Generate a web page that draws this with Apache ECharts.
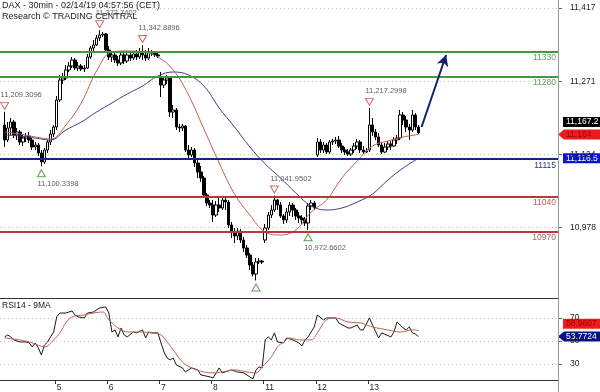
<!DOCTYPE html>
<html><head><meta charset="utf-8">
<script src="https://cdn.jsdelivr.net/npm/echarts@6/dist/echarts.min.js"></script>
<style>html,body{margin:0;padding:0;background:#fff}#c{width:600px;height:392px}</style>
</head><body><div id="c"></div>
<script>
// ---------- DATA ----------
const days = ['4','5','6','7','8','11','12','13'];
const barsPerDay = 17;
// [open, close, low, high]
const ohlc = [
[11183,11153,11139,11209.3],[11153,11177,11149,11189],[11177,11189,11163,11197],[11189,11163,11157,11193],
[11163,11169,11153,11177],[11169,11149,11143,11173],[11149,11157,11141,11163],[11157,11161,11149,11167],
[11161,11153,11147,11169],[11153,11139,11133,11157],[11139,11143,11133,11149],[11143,11127,11121,11147],
[11127,11109,11100.3,11133],[11109,11133,11105,11137],[11133,11149,11127,11153],[11149,11165,11143,11173],
[11165,11179,11159,11183],
[11179,11233,11173,11241],[11233,11273,11229,11283],[11273,11277,11265,11287],[11277,11293,11273,11303],
[11293,11301,11289,11309],[11301,11313,11297,11319],[11313,11297,11293,11317],[11297,11301,11291,11309],
[11301,11295,11291,11305],[11295,11297,11289,11303],[11297,11319,11295,11325],[11319,11337,11315,11341],
[11337,11343,11329,11353],[11343,11357,11341,11363],[11357,11363,11351,11372.7],[11363,11365,11359,11369],
[11365,11333,11327,11367],
[11333,11319,11313,11341],[11319,11323,11309,11329],[11323,11313,11307,11327],[11313,11307,11301,11321],
[11307,11323,11303,11329],[11323,11311,11305,11327],[11311,11323,11307,11329],[11323,11317,11311,11327],
[11317,11325,11313,11329],[11325,11319,11313,11333],[11319,11329,11315,11337],[11329,11323,11313,11342.9],
[11323,11317,11311,11333],[11317,11329,11313,11337],[11329,11327,11321,11333],[11327,11323,11319,11331],
[11323,11321,11317,11327],
[11277,11263,11239,11289],[11263,11273,11257,11281],[11273,11277,11265,11283],[11277,11209,11199,11281],
[11209,11213,11197,11223],[11213,11179,11173,11217],[11179,11177,11169,11185],[11177,11181,11171,11185],
[11181,11133,11129,11183],[11133,11123,11117,11143],[11123,11133,11119,11139],[11133,11107,11099,11137],
[11107,11089,11077,11113],[11089,11077,11069,11101],[11077,11043,11039,11081],[11043,11027,11021,11047],
[11027,11023,11017,11033],
[11023,11003,10989,11033],[11003,11023,10999,11031],[11023,11017,11009,11037],[11017,11033,11013,11039],
[11033,11029,11013,11039],[11029,10983,10977,11033],[10983,10969,10957,10989],[10969,10961,10947,10977],
[10961,10971,10953,10977],[10971,10953,10947,10975],[10953,10937,10929,10959],[10937,10923,10917,10943],
[10923,10903,10893,10927],[10903,10885,10880,10909],[10885,10909,10872,10917],[10909,10911,10905,10917],
[10911,10909,10905,10913],
[10953,10977,10947,10985],[10977,11003,10973,11009],[11003,11013,10997,11023],[11013,11033,11009,11042],
[11033,11023,11013,11035],[11023,11001,10997,11029],[11001,10993,10985,11005],[10993,11009,10987,11017],
[11009,11023,11001,11029],[11023,11013,10999,11027],[11013,11001,10993,11017],[11001,10997,10987,11009],
[10997,10993,10985,11003],[10993,10987,10981,10999],[10987,11021,10972.7,11027],[11021,11027,11013,11033],
[11027,11017,11013,11031],
[11123,11149,11119,11157],[11149,11133,11127,11155],[11133,11143,11127,11149],[11143,11129,11125,11147],
[11129,11149,11125,11153],[11149,11151,11143,11155],[11151,11153,11145,11159],[11153,11141,11137,11161],
[11141,11133,11127,11147],[11133,11129,11123,11139],[11129,11125,11121,11135],[11125,11133,11121,11137],
[11133,11141,11127,11147],[11141,11149,11135,11155],[11149,11133,11127,11153],[11133,11129,11125,11141],
[11129,11131,11127,11137],
[11133,11183,11129,11217.3],[11183,11169,11161,11197],[11169,11159,11153,11175],[11159,11143,11139,11167],
[11143,11129,11125,11149],[11129,11139,11127,11147],[11139,11145,11133,11151],[11145,11141,11133,11151],
[11141,11153,11139,11159],[11153,11157,11145,11163],[11157,11203,11153,11213],[11203,11193,11183,11209],
[11193,11179,11169,11201],[11179,11173,11153,11185],[11173,11203,11169,11213],[11203,11179,11173,11207],
[11179,11167.2,11165,11183]
];
// moving averages read at [barIndex, value]
const maFast = [[0,11169],[5,11165],[10,11159],[15,11155],[20,11183],[25,11227],[30,11291],[35,11329],[40,11331],[45,11329],[50,11319],[55,11293],[60,11243],[65,11175],[70,11107],[75,11045],[80,11003],[85,10969],[90,10963],[95,10973],[100,11009],[105,11033],[110,11077],[115,11111],[120,11141],[125,11151],[130,11159],[135,11164]];
const maSlow = [[0,11163],[5,11161],[10,11157],[15,11153],[20,11173],[25,11189],[30,11209],[35,11227],[40,11245],[45,11261],[50,11281],[55,11289],[60,11283],[65,11261],[70,11217],[75,11179],[80,11139],[85,11105],[90,11077],[95,11047],[100,11021],[105,11013],[110,11017],[115,11029],[120,11045],[125,11073],[130,11097],[135,11116.5]];
const rsi = [[0,53.5],[1,55.2],[2,53.5],[3,50.9],[5,49.1],[7,49.1],[8,48.3],[9,44.8],[10,48.3],[11,43.9],[12,37.8],[13,46.5],[14,49.1],[15,53.5],[16,57.8],[17,70.9],[18,74.3],[20,74.3],[22,76.1],[23,72.6],[24,70.9],[26,70],[27,74.3],[29,75.2],[31,78.7],[33,79.6],[34,74.3],[35,57.8],[36,59.6],[37,53.5],[38,61.3],[39,55.2],[40,53.5],[42,57.8],[43,57],[45,59.6],[46,52.6],[47,57.8],[48,57],[50,57],[51,48.3],[52,40.4],[53,35.2],[54,33.5],[55,35.2],[56,29.1],[58,26.5],[59,23],[61,26.5],[63,24.8],[64,20.4],[67,18.7],[68,17.8],[70,26.5],[71,22.2],[74,24.8],[76,23],[78,22.2],[80,18.7],[81,17],[82,24.8],[83,27.4],[84,26.5],[85,50.9],[86,53.5],[87,50.9],[88,57],[89,49.1],[91,48.3],[92,52.6],[94,50.9],[96,48.3],[97,45.7],[98,50.9],[99,53.5],[101,62.2],[102,72.6],[104,68.3],[105,70],[107,70],[108,70],[109,65.7],[112,61.3],[113,61.3],[115,63.9],[116,59.6],[117,59.6],[119,70],[120,63.9],[122,52.6],[123,57],[126,53.5],[127,57.8],[128,66.5],[130,61.3],[131,59.6],[132,62.2],[133,57],[134,56],[135,53.77]];
const rsiMa = [[0,52.6],[5,50.9],[9,48.3],[13,44.8],[16,50.9],[18,57],[20,65.7],[22,70.9],[26,72.6],[29,74.3],[32,75.2],[34,68.3],[38,59.6],[41,57.8],[44,57.8],[48,57],[51,55.2],[53,49.1],[55,42.2],[58,31.7],[61,26.5],[65,23],[68,22.2],[71,23],[75,24.8],[79,23],[82,22.2],[84,27.4],[87,36.1],[89,44.8],[91,49.1],[93,52.6],[96,50.9],[100,50.9],[102,57],[105,68.3],[108,70],[112,66.5],[116,65.7],[120,62.2],[125,59.6],[129,57.8],[133,59.6],[135,58.96]];
const greenLevels = [11330, 11280];
const blueLevels = [11115];
const redLevels = [11040, 10970];
const peaks = [[0,11209.3096],[31,11372.7402],[45,11342.8896],[88,11041.9502],[119,11217.2998]];
const peakLabels = ['11,209.3096','11,372.7402','11,342.8896','11,041.9502','11,217.2998'];
const troughs = [[12,11100.3398],[82,10872.0],[99,10972.6602]];
const troughLabels = ['11,100.3398','','10,972.6602'];
const priceTicks = [10978, 11124.33, 11270.67, 11417];
const rsiTicks = [30, 50, 70];
const arrowPath = [[136,11179],[144,11323]];
const lastPrice = 11167.2, lastFast = 11164, lastSlow = 11116.5;
const lastRsi = 53.7724, lastRsiMa = 58.9607;
const titleLine1 = 'DAX - 30min - 02/14/19 04:57:56 (CET)';
const titleLine2 = 'Research \u00A9 TRADING CENTRAL';
const rsiTitle = 'RSI14 - 9MA';

// ---------- BUILD ----------
const LEAD = 1, SLOTS = 182;
const FONT = '"Liberation Sans", Arial, sans-serif';
const categories = [];
for (let s = 0; s < SLOTS; s++) {
  const b = s - LEAD;
  categories.push(b >= 0 && b < ohlc.length ? days[Math.floor(b / barsPerDay)] + '|' + (b % barsPerDay) : 'x' + s);
}
const isDayStart = (idx) => { const b = idx - LEAD; return b > 0 && b < ohlc.length && b % barsPerDay === 0; };
const candleData = ohlc.map((d, i) => [i + LEAD, d[0], d[1], d[2], d[3]]);
const shift = arr => arr.map(p => [p[0] + LEAD, p[1]]);
function fmt(v, d) {
  const s = v.toFixed(d); const parts = s.split('.');
  parts[0] = parts[0].replace(/\B(?=(\d{3})+(?!\d))/g, ',');
  return parts.join('.');
}
const levelItem = (v, col, lab) => ({ yAxis: v, lineStyle: { color: col, width: 2, type: 'solid' },
  label: { show: true, position: 'insideEndBottom', formatter: String(v), color: lab, fontSize: 8.5, fontFamily: FONT, distance: 2 } });

const chart = echarts.init(document.getElementById('c'), null, { renderer: 'canvas' });
const option = {
  animation: false,
  backgroundColor: '#fff',
  grid: [
    { left: 0, top: 0, width: 558, height: 298 },
    { left: 0, top: 299, width: 558, height: 81 }
  ],
  xAxis: [
    { type: 'category', gridIndex: 0, data: categories, boundaryGap: true,
      axisLine: { show: true, lineStyle: { color: '#333', width: 1 } },
      axisTick: { show: false }, axisLabel: { show: false }, splitLine: { show: false } },
    { type: 'category', gridIndex: 1, data: categories, boundaryGap: true,
      axisLine: { show: true, lineStyle: { color: '#333', width: 1 } },
      axisTick: { show: true, interval: isDayStart, length: 4, lineStyle: { color: '#333' } },
      axisLabel: { show: true, interval: isDayStart, formatter: v => v.split('|')[0], align: 'left',
        fontSize: 8.5, fontFamily: FONT, color: '#222', margin: 3 },
      splitLine: { show: false } }
  ],
  yAxis: [
    { type: 'value', gridIndex: 0, position: 'right', min: 10837, max: 11433, scale: true,
      axisLine: { show: true, lineStyle: { color: '#999' } },
      axisTick: { show: true, customValues: priceTicks, length: 4, lineStyle: { color: '#666' } },
      axisLabel: { show: true, customValues: priceTicks, formatter: v => fmt(Math.round(v), 0),
        fontSize: 8.5, fontFamily: FONT, color: '#222', margin: 12 },
      splitLine: { show: true, lineStyle: { color: '#c8c8c8', type: [1, 3] } } },
    { type: 'value', gridIndex: 1, position: 'right', min: 16, max: 86.5,
      axisLine: { show: true, lineStyle: { color: '#999' } },
      axisTick: { show: true, customValues: rsiTicks, length: 4, lineStyle: { color: '#666' } },
      axisLabel: { show: true, customValues: rsiTicks, fontSize: 8.5, fontFamily: FONT, color: '#222', margin: 12 },
      splitLine: { show: true, lineStyle: { color: '#c8c8c8', type: [1, 3] } } }
  ],
  series: [
    { type: 'candlestick', xAxisIndex: 0, yAxisIndex: 0, data: candleData,
      encode: { x: 0, y: [1, 2, 3, 4] }, barWidth: 3,
      itemStyle: { color: '#fff', color0: '#000', borderColor: '#000', borderColor0: '#000', borderWidth: 1 },
      markLine: { silent: true, symbol: ['none', 'none'], animation: false,
        data: [
          ...greenLevels.map(v => levelItem(v, '#3f9a3f', '#5e9e5e')),
          ...blueLevels.map(v => levelItem(v, '#1c2488', '#2a3290')),
          ...redLevels.map(v => levelItem(v, '#b23a3a', '#b45a5a'))
        ] } },
    { type: 'line', xAxisIndex: 0, yAxisIndex: 0, data: shift(maSlow), smooth: 0.4, showSymbol: false,
      lineStyle: { color: '#3b3f8c', width: 1 } },
    { type: 'line', xAxisIndex: 0, yAxisIndex: 0, data: shift(maFast), smooth: 0.4, showSymbol: false,
      lineStyle: { color: '#c0605a', width: 1 },
      markLine: { silent: true, animation: false, symbol: ['none', 'arrow'], symbolSize: [9, 11],
        lineStyle: { color: '#17206e', width: 2, type: 'solid', curveness: 0.08 }, label: { show: false },
        data: [[{ coord: [arrowPath[0][0] + LEAD, arrowPath[0][1]] }, { coord: [arrowPath[1][0] + LEAD, arrowPath[1][1]] }]] } },
    { type: 'scatter', xAxisIndex: 0, yAxisIndex: 0, symbol: 'triangle', symbolRotate: 180, symbolSize: [8, 7],
      symbolOffset: [0, -6],
      itemStyle: { color: '#fff', borderColor: '#d03c3c', borderWidth: 1 },
      label: { show: true, position: 'top', distance: 3, align: 'left', offset: [-4, 0], formatter: '{b}',
        fontSize: 7.5, fontFamily: FONT, color: '#333' },
      data: peaks.map((p, i) => ({ name: peakLabels[i], value: [p[0] + LEAD, p[1]] })) },
    { type: 'scatter', xAxisIndex: 0, yAxisIndex: 0, symbol: 'triangle', symbolSize: [8, 7],
      symbolOffset: [0, 7],
      itemStyle: { color: '#fff', borderColor: '#2e8b2e', borderWidth: 1 },
      label: { show: true, position: 'bottom', distance: 3, align: 'left', offset: [-4, 0], formatter: '{b}',
        fontSize: 7.5, fontFamily: FONT, color: '#333' },
      data: troughs.map((p, i) => ({ name: troughLabels[i], value: [p[0] + LEAD, p[1]] })) },
    { type: 'line', xAxisIndex: 1, yAxisIndex: 1, data: shift(rsi), showSymbol: false,
      lineStyle: { color: '#1a1a1a', width: 1 } },
    { type: 'line', xAxisIndex: 1, yAxisIndex: 1, data: shift(rsiMa), smooth: 0.4, showSymbol: false,
      lineStyle: { color: '#c0605a', width: 1 } }
  ]
};
chart.setOption(option);

const py = v => chart.convertToPixel({ yAxisIndex: 0 }, v);
const pr = v => chart.convertToPixel({ yAxisIndex: 1 }, v);
function tag(yc, text, bg, fg, arrow) {
  const h = 10, top = yc - h / 2;
  const shape = arrow
    ? { type: 'polygon', shape: { points: [[558, yc], [564, top], [600, top], [600, top + h], [564, top + h]] }, style: { fill: bg } }
    : { type: 'rect', shape: { x: 563, y: top, width: 37, height: h }, style: { fill: bg } };
  return { type: 'group', z: 100, children: [shape,
    { type: 'text', style: { text, x: 566, y: yc, verticalAlign: 'middle', fontSize: 8.5, fontFamily: FONT, fill: fg } }] };
}
chart.setOption({ graphic: [
  { type: 'text', z: 100, style: { text: titleLine1, x: 2, y: 1, fontSize: 9, fontFamily: FONT, fill: '#222' } },
  { type: 'text', z: 100, style: { text: titleLine2, x: 2, y: 12, fontSize: 9, fontFamily: FONT, fill: '#222' } },
  { type: 'text', z: 100, style: { text: rsiTitle, x: 2, y: 301, fontSize: 8.5, fontFamily: FONT, fill: '#222' } },
  { type: 'line', z: 90, shape: { x1: 558.5, y1: 0, x2: 558.5, y2: 392 }, style: { stroke: '#999', lineWidth: 1 } },
  tag(py(lastPrice) - 11, fmt(lastPrice, 1), '#000', '#fff', false),
  tag(py(lastFast), fmt(lastFast, 0), '#ec1c1c', '#a30000', true),
  tag(py(lastSlow), fmt(lastSlow, 1), '#0a14d8', '#fff', false),
  tag(pr(lastRsiMa) - 7, lastRsiMa.toFixed(4), '#ec1c1c', '#a30000', false),
  tag(pr(lastRsi), lastRsi.toFixed(4), '#0c1280', '#fff', true)
] });
</script></body></html>
